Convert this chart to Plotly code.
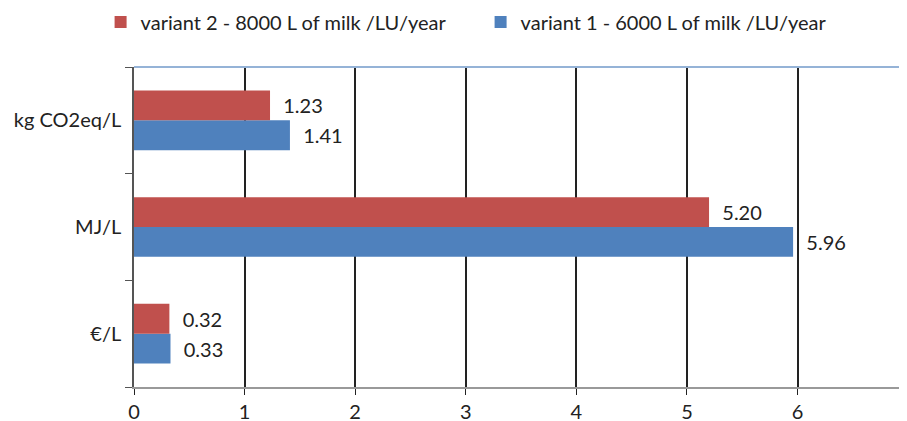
import plotly.graph_objects as go

categories = ["kg CO2eq/L", "MJ/L", "€/L"]
variant1 = [1.41, 5.96, 0.33]
variant2 = [1.23, 5.20, 0.32]
name1 = "variant 1 - 6000 L of milk /LU/year"
name2 = "variant 2 - 8000 L of milk /LU/year"
x_ticks = [0, 1, 2, 3, 4, 5, 6, 7]

FONT = "Lato"
FS = 20

fig = go.Figure()
fig.add_trace(go.Bar(
    y=categories, x=variant1, name=name1, orientation="h",
    marker=dict(color="#4F81BD", line=dict(width=0)),
    text=["  " + f"{v:.2f}" for v in variant1], textposition="outside",
    textfont=dict(size=FS, color="#222222", family=FONT), cliponaxis=False,
))
fig.add_trace(go.Bar(
    y=categories, x=variant2, name=name2, orientation="h",
    marker=dict(color="#C0504D", line=dict(width=0)),
    text=["  " + f"{v:.2f}" for v in variant2], textposition="outside",
    textfont=dict(size=FS, color="#222222", family=FONT), cliponaxis=False,
))

fig.update_layout(
    width=899, height=413,
    margin=dict(l=126, r=0, t=59, b=34, autoexpand=False),
    paper_bgcolor="white", plot_bgcolor="white",
    barmode="group", bargap=0.44, bargroupgap=0,
    font=dict(family=FONT, size=FS, color="#222222"),
    showlegend=True,
    legend=dict(orientation="h", xref="container", x=0.103, xanchor="left",
                yref="container", y=0.966, yanchor="middle",
                traceorder="reversed", font=dict(size=FS, family=FONT),
                itemwidth=30, entrywidth=335),
    xaxis=dict(range=[0, 6.99], tickvals=x_ticks, showgrid=True, gridcolor="#222222",
               gridwidth=1.5, showline=True, linecolor="#999999", linewidth=2,
               ticks="outside", ticklen=6, tickcolor="#222222", zeroline=False,
               tickfont=dict(size=FS), automargin=False),
    yaxis=dict(categoryorder="array", categoryarray=categories[::-1],
               tickson="boundaries", ticks="outside", ticklen=7, tickcolor="#555555",
               showline=True, linecolor="#555555", linewidth=1.5, showgrid=False,
               tickfont=dict(size=FS), ticklabelstandoff=7, automargin=False),
)
fig.add_shape(type="line", xref="paper", yref="paper", x0=0, x1=1, y0=1, y1=1,
              line=dict(color="#95B3D7", width=2))
fig.write_html("out.html")
